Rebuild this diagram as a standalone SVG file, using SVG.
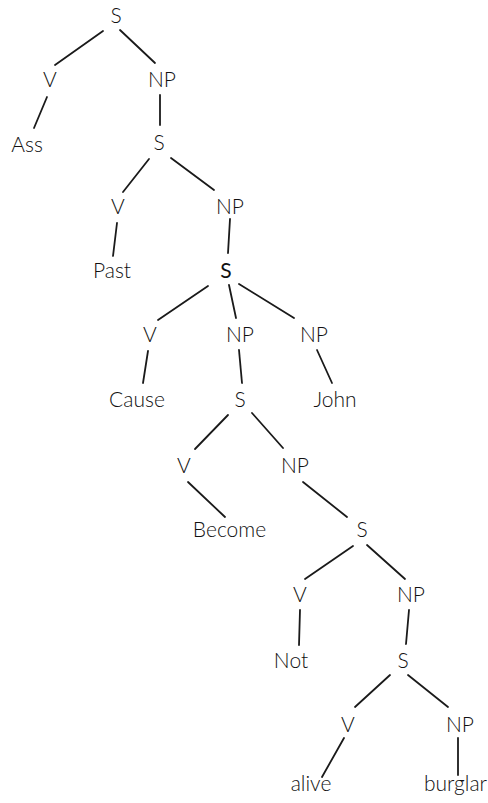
<svg xmlns="http://www.w3.org/2000/svg" width="488" height="803" viewBox="0 0 488 803">
  <style>
    .lbl { font-family: Lato, "Liberation Sans", sans-serif; font-size: 21px; font-weight: 300; fill: #111; text-anchor: middle; }
    .bold { font-weight: 400; }
    .edges line { stroke: #1a1a1a; stroke-width: 1.8; stroke-linecap: round; }
  </style>
  <rect width="488" height="803" fill="#fff"/>

  <g class="edges" id="edges">
    <line x1="103" y1="31" x2="55" y2="65"/>
    <line x1="120" y1="30" x2="155" y2="63"/>
    <line x1="47" y1="97" x2="34" y2="128"/>
    <line x1="160" y1="95" x2="160" y2="125"/>
    <line x1="149" y1="159" x2="123" y2="192"/>
    <line x1="171" y1="158" x2="214" y2="190"/>
    <line x1="117" y1="223" x2="113" y2="256"/>
    <line x1="230" y1="219" x2="228" y2="253"/>
    <line x1="208" y1="286" x2="158" y2="320"/>
    <line x1="229" y1="285" x2="236" y2="318"/>
    <line x1="239" y1="284" x2="294" y2="318"/>
    <line x1="148" y1="351" x2="143" y2="383"/>
    <line x1="239" y1="350" x2="242" y2="383"/>
    <line x1="317" y1="350" x2="332" y2="383"/>
    <line x1="228" y1="415" x2="195" y2="449"/>
    <line x1="252" y1="413" x2="283" y2="448"/>
    <line x1="188" y1="482" x2="225" y2="517"/>
    <line x1="303" y1="482" x2="347" y2="517"/>
    <line x1="353" y1="546" x2="305" y2="579"/>
    <line x1="367" y1="545" x2="405" y2="579"/>
    <line x1="300" y1="610" x2="299" y2="645"/>
    <line x1="409" y1="610" x2="406" y2="644"/>
    <line x1="390" y1="675" x2="355" y2="707"/>
    <line x1="408" y1="675" x2="448" y2="707"/>
    <line x1="344" y1="738" x2="322" y2="777"/>
    <line x1="458" y1="738" x2="458" y2="775"/>
  </g>

  <g id="s0"><text class="lbl" x="116" y="23">S</text></g>
  <g id="v1"><text class="lbl" x="50" y="87">V</text></g>
  <g id="np1"><text class="lbl" x="162" y="87">NP</text></g>
  <g id="ass"><text class="lbl" x="27" y="152">Ass</text></g>
  <g id="s1"><text class="lbl" x="159" y="150">S</text></g>
  <g id="v2"><text class="lbl" x="118" y="214">V</text></g>
  <g id="np2"><text class="lbl" x="230" y="214">NP</text></g>
  <g id="past"><text class="lbl" x="112" y="278">Past</text></g>
  <g id="s2"><text class="lbl bold" x="226" y="278">S</text></g>
  <g id="v3"><text class="lbl" x="150" y="342">V</text></g>
  <g id="np3"><text class="lbl" x="240" y="342">NP</text></g>
  <g id="np4"><text class="lbl" x="314" y="342">NP</text></g>
  <g id="cause"><text class="lbl" x="137" y="407">Cause</text></g>
  <g id="s3"><text class="lbl" x="240" y="407">S</text></g>
  <g id="john"><text class="lbl" x="335" y="407">John</text></g>
  <g id="v4"><text class="lbl" x="184" y="473">V</text></g>
  <g id="np5"><text class="lbl" x="295" y="473">NP</text></g>
  <g id="become"><text class="lbl" x="229.5" y="537">Become</text></g>
  <g id="s4"><text class="lbl" x="362" y="537">S</text></g>
  <g id="v5"><text class="lbl" x="300" y="602">V</text></g>
  <g id="np6"><text class="lbl" x="411" y="602">NP</text></g>
  <g id="not"><text class="lbl" x="291" y="668">Not</text></g>
  <g id="s5"><text class="lbl" x="403" y="668">S</text></g>
  <g id="v6"><text class="lbl" x="348" y="732">V</text></g>
  <g id="np7"><text class="lbl" x="460" y="732">NP</text></g>
  <g id="alive"><text class="lbl" x="311" y="791">alive</text></g>
  <g id="burglar"><text class="lbl" x="455.5" y="791">burglar</text></g>
</svg>
